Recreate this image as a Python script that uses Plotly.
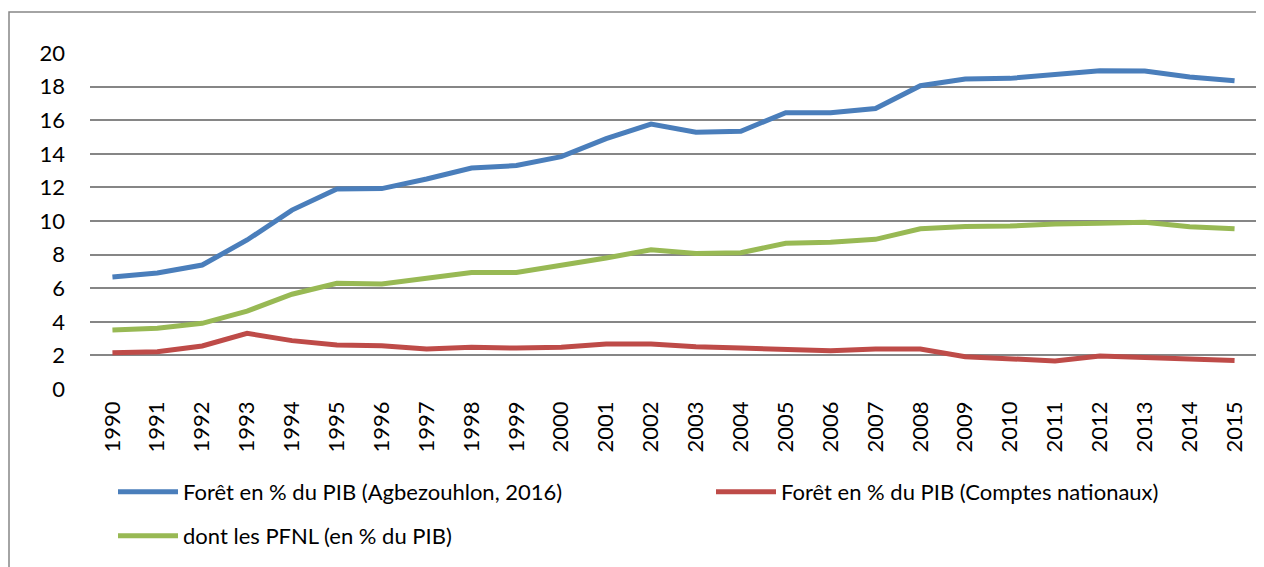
import plotly.graph_objects as go

years = [str(y) for y in range(1990, 2016)]
foret_agbez = [6.67, 6.9, 7.38, 8.87, 10.65, 11.9, 11.93, 12.5, 13.15, 13.3, 13.83, 14.9, 15.77,
               15.28, 15.34, 16.45, 16.45, 16.7, 18.05, 18.45, 18.49, 18.73, 18.95, 18.93, 18.57, 18.35]
foret_cn = [2.16, 2.22, 2.56, 3.31, 2.88, 2.62, 2.58, 2.38, 2.48, 2.44, 2.48, 2.68, 2.68,
            2.52, 2.44, 2.38, 2.28, 2.38, 2.38, 1.92, 1.8, 1.67, 1.96, 1.89, 1.79, 1.69]
pfnl = [3.51, 3.61, 3.91, 4.64, 5.64, 6.29, 6.25, 6.6, 6.94, 6.94, 7.34, 7.8, 8.29,
        8.07, 8.11, 8.67, 8.73, 8.91, 9.54, 9.68, 9.7, 9.82, 9.86, 9.92, 9.66, 9.54]
names = ["Forêt en % du PIB (Agbezouhlon, 2016)",
         "Forêt en % du PIB (Comptes nationaux)",
         "dont les PFNL (en % du PIB)"]
colors = ["#4A7EBB", "#BE4B48", "#98B954"]
legend_ids = ["legend", "legend2", "legend3"]
y_ticks = list(range(0, 21, 2))

fig = go.Figure()
for vals, nm, c, lg in zip([foret_agbez, foret_cn, pfnl], names, colors, legend_ids):
    fig.add_trace(go.Scatter(x=years, y=vals, name=nm, mode="lines",
                             line=dict(color=c, width=5), legend=lg))

# page body has an 8px margin; work in screen coords then subtract it
OFF = 8
W, H = 1264 - OFF, 567 - OFF
L, T = 90 - OFF, 53 - OFF
pw, ph = 1257 - 90, 389 - 53
R, B = W - L - pw, H - T - ph


def px_x(sx):
    return (sx - OFF - L) / pw


def px_y(sy):
    return 1 - (sy - OFF - T) / ph


font_family = "Lato, 'Liberation Sans', sans-serif"
leg_common = dict(orientation="h", xanchor="left", yanchor="middle",
                  font=dict(size=22), itemwidth=60, bgcolor="rgba(0,0,0,0)")
fig.update_layout(
    width=W, height=H,
    margin=dict(l=L, r=R, t=T, b=B, autoexpand=False),
    paper_bgcolor="white", plot_bgcolor="white",
    font=dict(family=font_family, size=22, color="black"),
    showlegend=True,
    legend=dict(**leg_common, x=px_x(113), y=px_y(492)),
    legend2=dict(**leg_common, x=px_x(711), y=px_y(492)),
    legend3=dict(**leg_common, x=px_x(113), y=px_y(536)),
    xaxis=dict(type="category", tickangle=-90, showgrid=False, showline=False,
               ticks="", ticklabelstandoff=7, range=[-0.5, 25.5]),
    yaxis=dict(range=[0, 20], tickvals=y_ticks, showgrid=True, gridcolor="#868686",
               gridwidth=1.6, zeroline=False, showline=False, ticks="",
               ticklabelstandoff=24),
    shapes=[dict(type="rect", xref="paper", yref="paper",
                 x0=px_x(9), x1=px_x(2000), y0=px_y(900), y1=px_y(12),
                 line=dict(color="#868686", width=1.5), fillcolor="rgba(0,0,0,0)",
                 layer="below")],
)
fig.write_html("out.html")
